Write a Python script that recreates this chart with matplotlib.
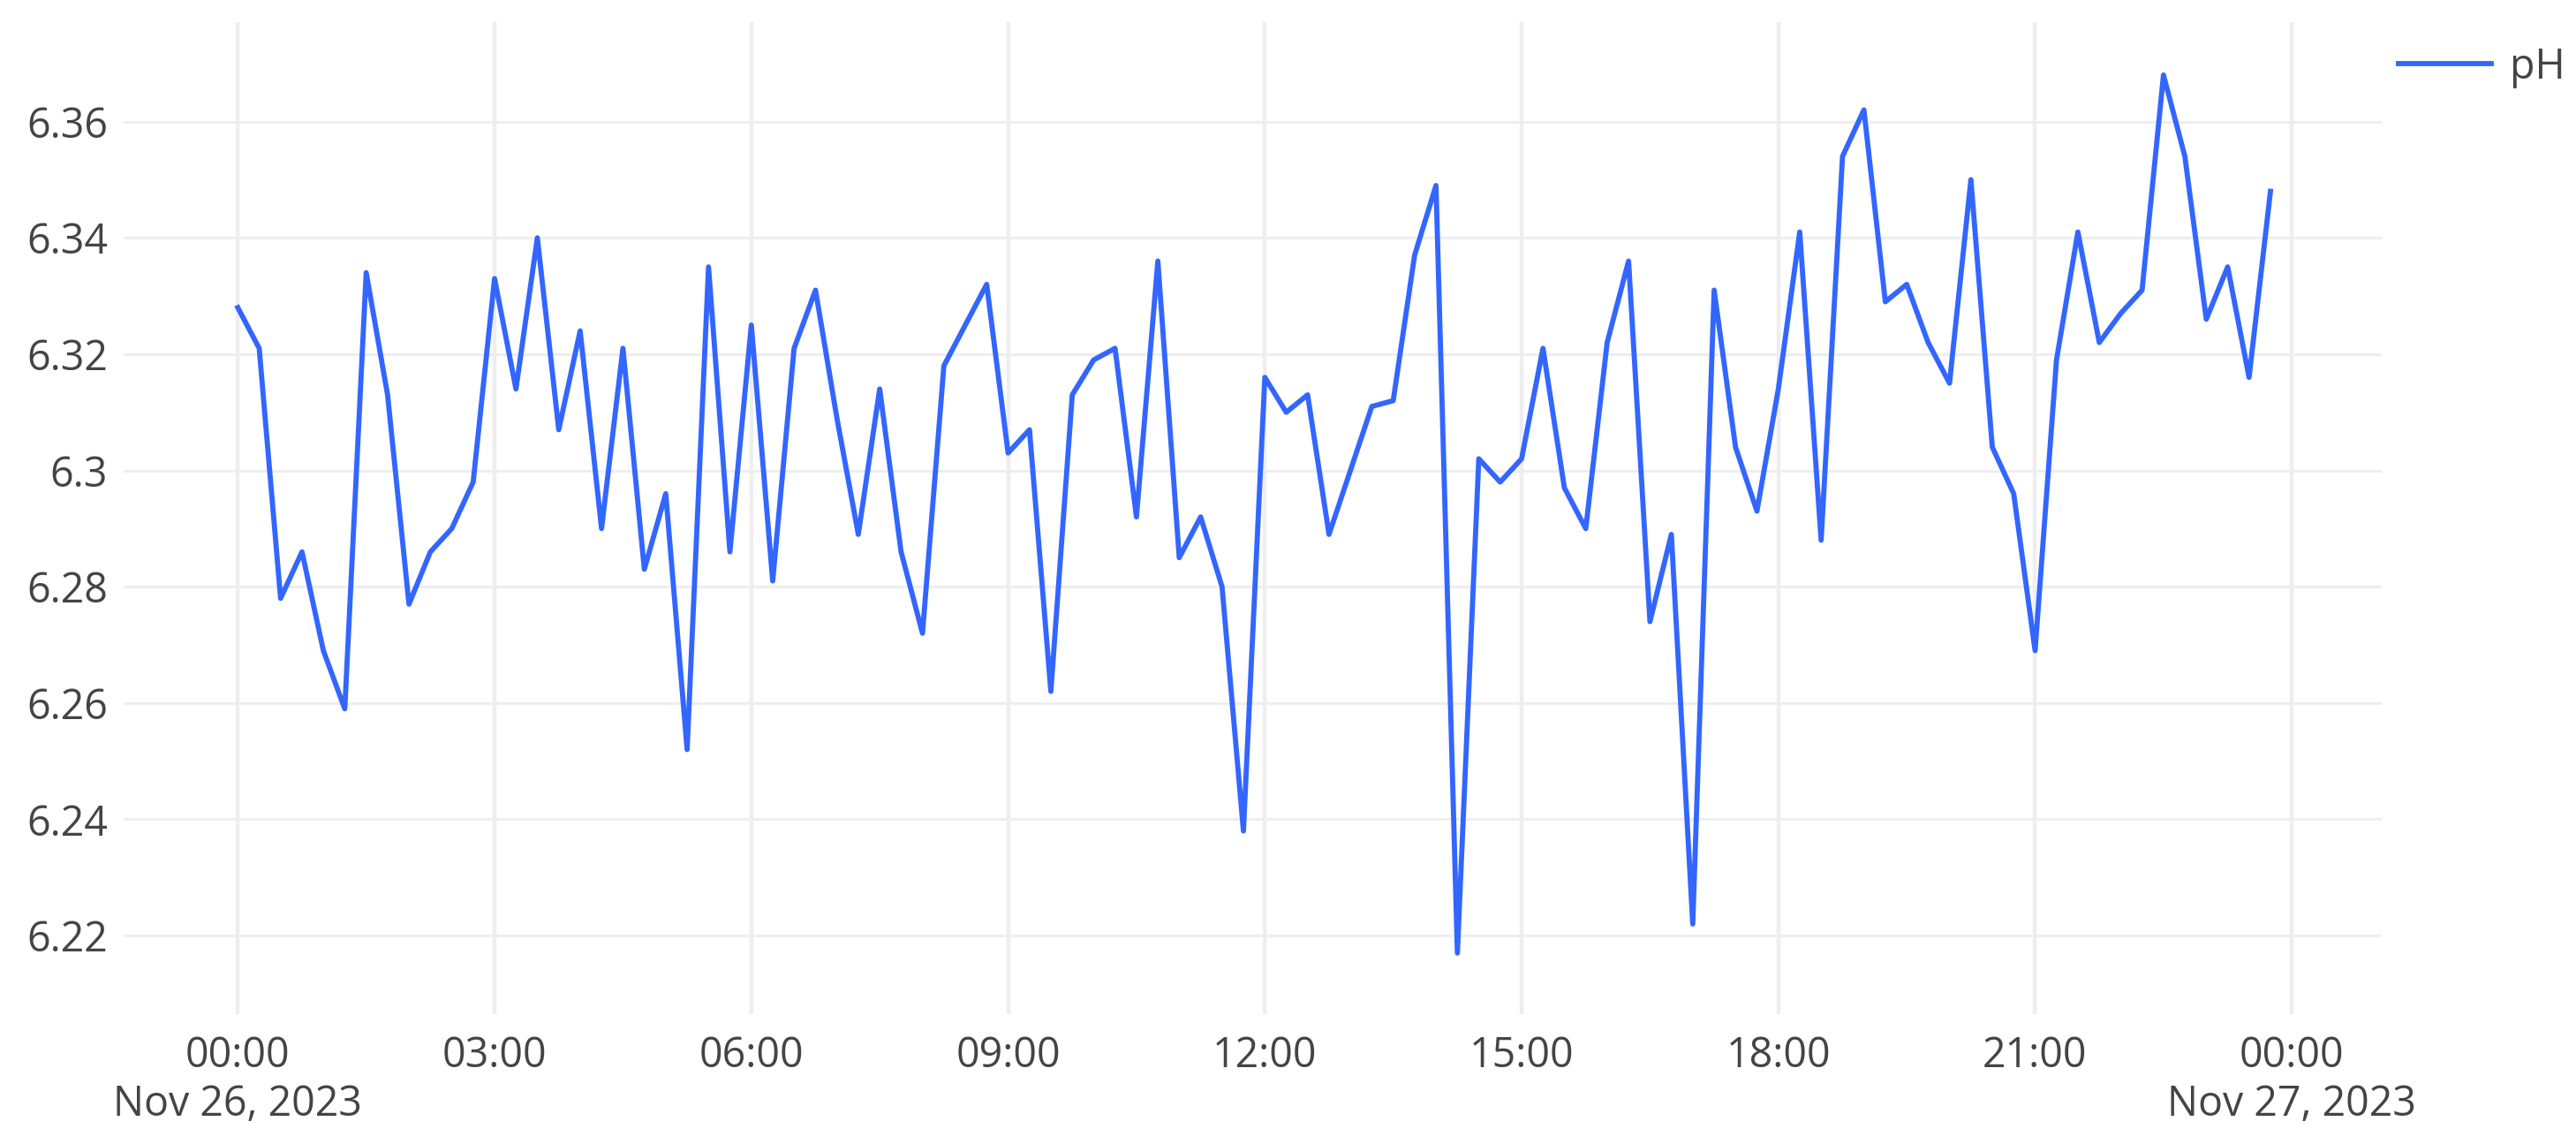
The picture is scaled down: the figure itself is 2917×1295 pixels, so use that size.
import matplotlib
matplotlib.use("Agg")
import matplotlib.pyplot as plt
import matplotlib.dates as mdates
import matplotlib.ticker as mticker
import numpy as np
import pandas as pd

plt.rcParams['font.family'] = ['Open Sans', 'DejaVu Sans']

# ---- data ----
start_time = "2023-11-26 00:00"
interval = "15min"
ph_values = [
    6.328, 6.321, 6.278, 6.286, 6.269, 6.259, 6.334, 6.313, 6.277, 6.286,
    6.290, 6.298, 6.333, 6.314, 6.340, 6.307, 6.324, 6.290, 6.321, 6.283,
    6.296, 6.252, 6.335, 6.286, 6.325, 6.281, 6.321, 6.331, 6.309, 6.289,
    6.314, 6.286, 6.272, 6.318, 6.325, 6.332, 6.303, 6.307, 6.262, 6.313,
    6.319, 6.321, 6.292, 6.336, 6.285, 6.292, 6.280, 6.238, 6.316, 6.310,
    6.313, 6.289, 6.300, 6.311, 6.312, 6.337, 6.349, 6.217, 6.302, 6.298,
    6.302, 6.321, 6.297, 6.290, 6.322, 6.336, 6.274, 6.289, 6.222, 6.331,
    6.304, 6.293, 6.314, 6.341, 6.288, 6.354, 6.362, 6.329, 6.332, 6.322,
    6.315, 6.350, 6.304, 6.296, 6.269, 6.319, 6.341, 6.322, 6.327, 6.331,
    6.368, 6.354, 6.326, 6.335, 6.316, 6.348,
]
series_name = "pH"
y_ticks = [6.22, 6.24, 6.26, 6.28, 6.30, 6.32, 6.34, 6.36]

times = pd.date_range(start_time, periods=len(ph_values), freq=interval)

W, H = 2917, 1295
dpi = 100
fig = plt.figure(figsize=(W / dpi, H / dpi), dpi=dpi)
ax = fig.add_axes([140 / W, 1 - 1148 / H, (2697 - 140) / W, (1148 - 25) / H])

line_color = "#3366ff"
text_color = "#444444"
grid_color = "#eeeeee"

ax.plot(times, ph_values, color=line_color, lw=4.2, solid_joinstyle='round',
        label=series_name)

t0 = pd.Timestamp(start_time)
ax.set_xlim(t0 - pd.Timedelta(hours=1.334), t0 + pd.Timedelta(hours=25.05))
ax.set_ylim(6.2065, 6.3771)

ax.set_yticks(y_ticks)
ax.yaxis.set_major_formatter(mticker.FuncFormatter(lambda v, p: "%g" % round(v, 2)))

ax.xaxis.set_major_locator(mdates.HourLocator(byhour=range(0, 24, 3)))

def fmt_x(v, p):
    d = mdates.num2date(v)
    s = d.strftime("%H:%M")
    if d.hour == 0 and d.minute == 0:
        s += "\n" + d.strftime("%b %d, %Y").replace(" 0", " ")
    return s

ax.xaxis.set_major_formatter(mticker.FuncFormatter(fmt_x))

for sp in ax.spines.values():
    sp.set_visible(False)

ax.tick_params(axis='both', length=0, labelsize=33.5, labelcolor=text_color)
ax.tick_params(axis='x', pad=17)
ax.tick_params(axis='y', pad=13)
for lbl in ax.get_xticklabels():
    lbl.set_linespacing(1.2)

ax.grid(axis='y', color=grid_color, lw=2.2)
ax.grid(axis='x', color=grid_color, lw=3.2)
ax.set_axisbelow(True)

leg = fig.legend(loc='upper left', bbox_to_anchor=(2716 / W, 1 - 52 / H),
                 frameon=False, fontsize=33.5, handlelength=2.25, handletextpad=0.45,
                 borderaxespad=0, borderpad=0)
for t in leg.get_texts():
    t.set_color(text_color)

fig.savefig("out.png", dpi=dpi, facecolor="white")
